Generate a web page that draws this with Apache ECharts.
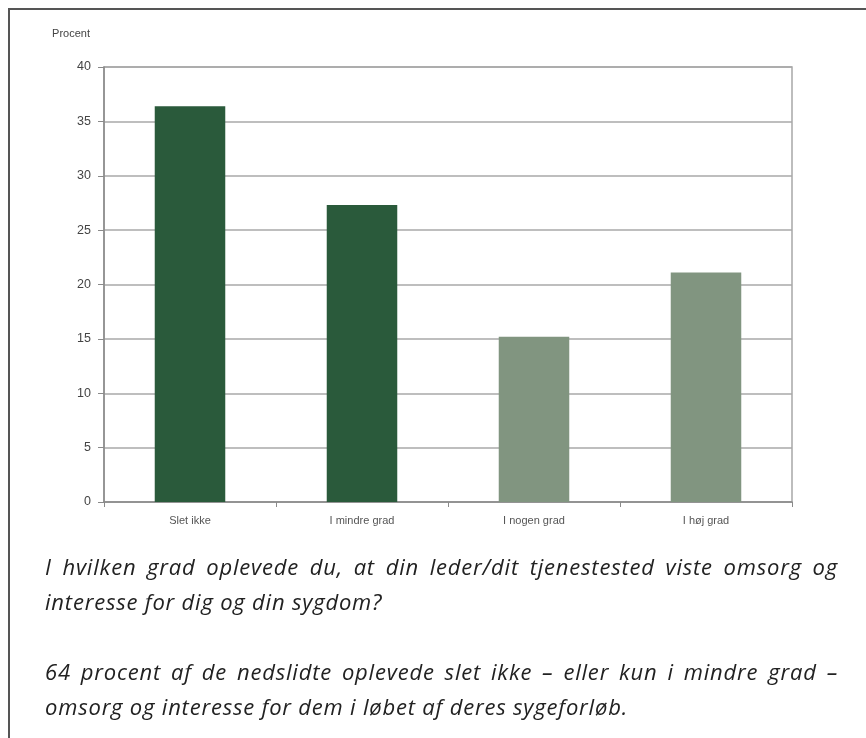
<!DOCTYPE html>
<html>
<head>
<meta charset="utf-8">
<script src="https://cdn.jsdelivr.net/npm/echarts@6/dist/echarts.min.js"></script>
<style>
  html, body { margin: 0; padding: 0; background: #fff; }
  #wrap { position: relative; width: 866px; height: 738px; overflow: hidden; }
  #chart { position: absolute; left: 0; top: 0; width: 866px; height: 738px; }
  .cap { position: absolute; left: 45px; width: 793px; font-family: "Open Sans", "Lato", sans-serif; font-style: italic; font-size: 22px; letter-spacing: 0.8px; line-height: 35px; color: #222; white-space: nowrap; }
  .just { text-align: justify; text-align-last: justify; white-space: normal; }
</style>
</head>
<body>
<div id="wrap">
  <div id="chart"></div>
  <div class="cap just" style="top:549px">I hvilken grad oplevede du, at din leder/dit tjenestested viste omsorg og</div>
  <div class="cap" style="top:584px">interesse for dig og din sygdom?</div>
  <div class="cap just" style="top:654px">64 procent af de nedslidte oplevede slet ikke – eller kun i mindre grad –</div>
  <div class="cap" style="top:689px">omsorg og interesse for dem i løbet af deres sygeforløb.</div>
</div>
<script>
const categories = ['Slet ikke', 'I mindre grad', 'I nogen grad', 'I høj grad'];
const values = [36.4, 27.3, 15.2, 21.1];
const barColors = ['#2a5a3b', '#2a5a3b', '#819580', '#819580'];
const yTicks = { min: 0, max: 40, interval: 5 };
const axisName = 'Procent';

const chart = echarts.init(document.getElementById('chart'), null, { renderer: 'canvas' });
chart.setOption({
  animation: false,
  backgroundColor: '#fff',
  grid: { left: 104, right: 74, top: 67, bottom: 236, show: true, borderColor: '#a8a8a8', borderWidth: 1.5 },
  xAxis: {
    type: 'category',
    data: categories,
    axisLine: { lineStyle: { color: '#8a8a8a', width: 1.5 } },
    axisTick: { show: true, alignWithLabel: false, length: 5, lineStyle: { color: '#8a8a8a' } },
    axisLabel: { color: '#555', fontFamily: 'Liberation Sans, Arial', fontSize: 11, margin: 13 }
  },
  yAxis: {
    type: 'value',
    min: yTicks.min, max: yTicks.max, interval: yTicks.interval,
    name: axisName,
    nameLocation: 'end',
    nameGap: 28,
    nameTextStyle: { color: '#444', fontFamily: 'Liberation Sans, Arial', fontSize: 11, align: 'right', padding: [0, 14, 0, 0] },
    axisLine: { show: true, lineStyle: { color: '#8a8a8a', width: 1.5 } },
    axisTick: { show: true, length: 6, lineStyle: { color: '#8a8a8a' } },
    axisLabel: { color: '#444', fontFamily: 'Liberation Sans, Arial', fontSize: 12.5, margin: 13 },
    splitLine: { show: true, lineStyle: { color: '#a8a8a8', width: 1.5 } }
  },
  series: [{
    type: 'bar',
    data: values.map((v, i) => ({ value: v, itemStyle: { color: barColors[i] } })),
    barWidth: '41%'
  }],
  graphic: [{
    type: 'polyline',
    shape: { points: [[9, 738], [9, 9], [866, 9]] },
    style: { stroke: '#555', lineWidth: 2, fill: null }
  }]
});
</script>
</body>
</html>
